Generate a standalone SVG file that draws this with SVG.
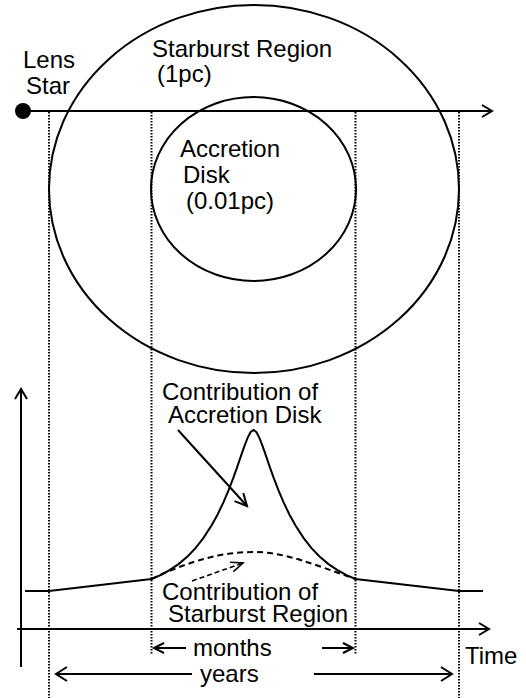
<svg xmlns="http://www.w3.org/2000/svg" width="526" height="698" viewBox="0 0 526 698">
<style>
text{font-family:"Liberation Sans",Arial,sans-serif;font-size:24px;fill:#000}
.s{fill:none;stroke:#000;stroke-width:2}
.d{fill:none;stroke:#000;stroke-width:2;stroke-dasharray:1.5,1.5}
.dash{fill:none;stroke:#000;stroke-width:2;stroke-dasharray:6,4}
.h{fill:none;stroke:#000;stroke-width:2;stroke-linejoin:miter}
</style>
<rect width="526" height="698" fill="#fff"/>
<g id="starburst-region">
<ellipse class="s" cx="254" cy="189" rx="205" ry="184"/>
<text x="152" y="57">Starburst Region</text>
<text x="157" y="82">(1pc)</text>
</g>
<g id="accretion-disk">
<ellipse class="s" cx="253.5" cy="189" rx="102.5" ry="92"/>
<text x="180" y="157">Accretion</text>
<text x="183" y="183">Disk</text>
<text x="186" y="209">(0.01pc)</text>
</g>
<g id="lens-star">
<circle cx="23" cy="111" r="8" fill="#000"/>
<text x="23" y="68">Lens</text>
<text x="26" y="94">Star</text>
</g>
<g id="connectors">
<line class="s" x1="23" y1="111" x2="492" y2="111"/>
<polyline class="h" points="482,105 492,111 482,117"/>
<line class="d" x1="49" y1="112" x2="49" y2="698"/>
<line class="d" x1="151.5" y1="112" x2="151.5" y2="655"/>
<line class="d" x1="355.5" y1="112" x2="355.5" y2="655"/>
<line class="d" x1="459" y1="112" x2="459" y2="698"/>
<line class="s" x1="21" y1="667" x2="21" y2="389"/>
<polyline class="h" points="15,399 21,389 27,399"/>
<line class="s" x1="17" y1="629" x2="489" y2="629"/>
<polyline class="h" points="479,623 489,629 479,635"/>
<line class="s" x1="154" y1="648" x2="186" y2="648"/>
<polyline class="h" points="164,643 154,648 164,653"/>
<line class="s" x1="322" y1="648" x2="353" y2="648"/>
<polyline class="h" points="343,643 353,648 343,653"/>
<line class="s" x1="56" y1="674" x2="192" y2="674"/>
<polyline class="h" points="67,667 56,674 67,681"/>
<line class="s" x1="314" y1="674" x2="452" y2="674"/>
<polyline class="h" points="441,667 452,674 441,681"/>
<polyline class="s" points="25,591 49,591 151.5,579 160.5,575.1 169.5,570.2 178.5,564.1 187.5,556.4 195.5,548.1 203.5,537.9 211.5,525.6 217.5,514.7 223.5,502.1 228.5,490.3 233.5,477.3 237.5,466.1 241.5,454.4 244.5,445.8 247.5,438.1 250.5,432.2 253.5,430 256.5,432.2 259.5,438.1 262.5,445.8 265.5,454.4 269.5,466.1 273.5,477.3 278.5,490.3 283.5,502.1 289.5,514.7 295.5,525.6 303.5,537.9 311.5,548.1 319.5,556.4 328.5,564.1 337.5,570.2 346.5,575.1 355.5,579 459,591 483,591"/>
<path class="dash" d="M151.5,579 C192,560 222,552 254,552 C285,552 315,565 355.5,579"/>
<line class="s" x1="178" y1="430" x2="247" y2="506"/>
<polyline class="h" points="234.5,501.1 247,506 243.3,493.1"/>
<line class="dash" x1="192" y1="581" x2="243" y2="563" style="stroke-width:1.6;stroke-dasharray:5,3"/>
<polyline class="h" style="stroke-width:1.6" points="233.4,571.7 243,563 230,562.3"/>
</g>
<g id="labels">
<text x="162" y="400">Contribution of</text>
<text x="168" y="423">Accretion Disk</text>
<text x="162" y="600">Contribution of</text>
<text x="168" y="622">Starburst Region</text>
<text x="193" y="656">months</text>
<text x="200" y="682">years</text>
<text x="465" y="664">Time</text>
</g>
</svg>
